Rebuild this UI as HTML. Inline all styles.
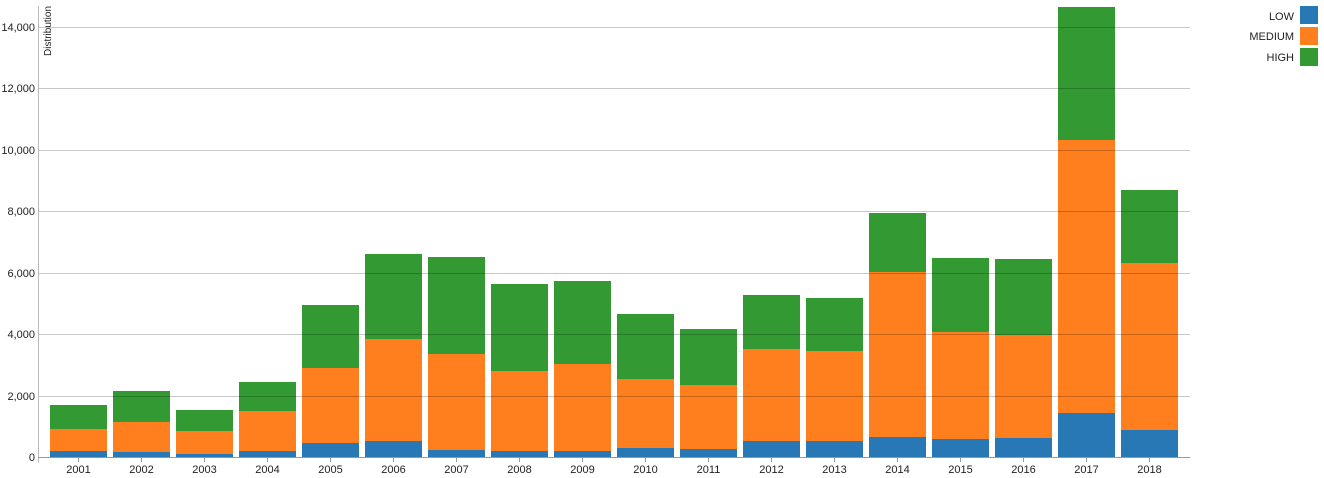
<!DOCTYPE html>
<html><head><meta charset="utf-8"><style>
html,body{margin:0;padding:0;background:#fff;width:1324px;height:478px;overflow:hidden}
text{font-family:"Liberation Sans",sans-serif;font-size:11px;fill:#222}
</style></head><body>
<svg width="1324" height="478" viewBox="0 0 1324 478" xmlns="http://www.w3.org/2000/svg">
<g id="bars"></g>
<g stroke="rgba(0,0,0,0.22)" stroke-width="1">
<line x1="38" y1="396.5" x2="1190" y2="396.5"/>
<line x1="38" y1="334.5" x2="1190" y2="334.5"/>
<line x1="38" y1="273.5" x2="1190" y2="273.5"/>
<line x1="38" y1="211.5" x2="1190" y2="211.5"/>
<line x1="38" y1="150.5" x2="1190" y2="150.5"/>
<line x1="38" y1="88.5" x2="1190" y2="88.5"/>
<line x1="38" y1="27.5" x2="1190" y2="27.5"/>
</g>
<line x1="38.5" y1="6" x2="38.5" y2="463" stroke="#bbb"/>
<line x1="38" y1="457.5" x2="1190" y2="457.5" stroke="#999"/>
<g text-anchor="end">
<text x="35" y="461">0</text>
<text x="35" y="400">2,000</text>
<text x="35" y="338">4,000</text>
<text x="35" y="277">6,000</text>
<text x="35" y="215">8,000</text>
<text x="35" y="154">10,000</text>
<text x="35" y="92">12,000</text>
<text x="35" y="31">14,000</text>
</g>
<text transform="translate(51,56) rotate(-90)" style="font-size:10px">Distribution</text>
<g id="xl" text-anchor="middle"></g>
<g text-anchor="end">
<text x="1294" y="20">LOW</text>
<text x="1294" y="40">MEDIUM</text>
<text x="1294" y="61">HIGH</text>
</g>
<rect x="1300" y="6" width="18" height="18" fill="#2878b5"/>
<rect x="1300" y="27" width="18" height="18" fill="#ff7f1e"/>
<rect x="1300" y="48" width="18" height="18" fill="#339a33"/>
<script>
var d=[[451,429,405],[452,422,391],[454,431,410],[451,411,382],[443,368,305],[441,339,254],[450,354,257],[451,371,284],[451,364,281],[448,379,314],[449,385,329],[441,349,295],[441,351,298],[437,272,213],[439,332,258],[438,335,259],[413,140,7],[430,263,190]];
var ns="http://www.w3.org/2000/svg",g=document.getElementById("bars"),xl=document.getElementById("xl");
var cols=["#2878b5","#ff7f1e","#339a33"];
d.forEach(function(r,i){var x=50+63*i,prev=457;
for(var k=0;k<3;k++){var e=document.createElementNS(ns,"rect");e.setAttribute("x",x);e.setAttribute("y",r[k]);e.setAttribute("width",57);e.setAttribute("height",prev-r[k]);e.setAttribute("fill",cols[k]);g.appendChild(e);prev=r[k];}
var t=document.createElementNS(ns,"text");t.setAttribute("x",x+28.5);t.setAttribute("y",473);t.textContent=2001+i;xl.appendChild(t);
var l=document.createElementNS(ns,"line");l.setAttribute("x1",x+28.5);l.setAttribute("x2",x+28.5);l.setAttribute("y1",457);l.setAttribute("y2",462);l.setAttribute("stroke","#999");xl.appendChild(l);});
</script>
</svg>
</body></html>
